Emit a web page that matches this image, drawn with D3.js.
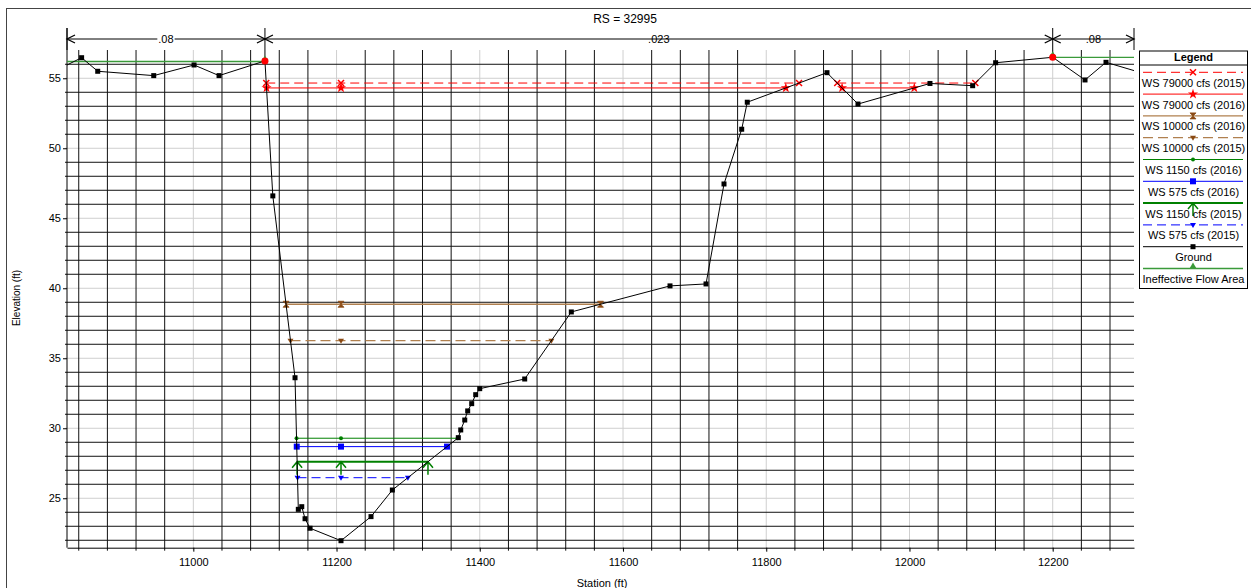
<!DOCTYPE html>
<html>
<head>
<meta charset="utf-8">
<script src="https://cdn.jsdelivr.net/npm/d3@7"></script>
<style>
  html, body { margin: 0; padding: 0; background: #fff; }
  svg { display: block; font-family: "Liberation Sans", Arial, sans-serif; }
</style>
</head>
<body>
<svg id="chart" width="1251" height="588"></svg>
<script>
// Cross section RS = 32995 : ground profile, water surfaces and reach roughness.

const title = "RS = 32995";

// Ground profile: station (ft), elevation (ft)
const groundStation = [10810, 10844, 10866.5, 10944.7, 11001, 11035.9, 11100, 11111, 11142, 11146.6,
  11151.4, 11156, 11163, 11206.2, 11248.1, 11277.9, 11370, 11373.4, 11379, 11383.1,
  11388.7, 11394.3, 11399.9, 11462.7, 11527.8, 11665.6, 11715.9, 11741, 11765.7, 11773.5,
  11884.8, 11928.1, 12028.6, 12088.2, 12120.3, 12200, 12245.1, 12274.4, 12330];
const groundElev = [55.6, 56.47, 55.5, 55.19, 55.95, 55.19, 56.24, 46.6, 33.61, 24.21,
  24.4, 23.54, 22.86, 21.97, 23.69, 25.59, 29.33, 29.88, 30.59, 31.24,
  31.76, 32.4, 32.83, 33.52, 38.31, 40.17, 40.31, 47.45, 51.36, 53.29,
  55.4, 53.16, 54.63, 54.47, 56.11, 56.5, 54.88, 56.14, 55.3];

// Water surface profiles
const wsNames = ["WS 79000 cfs (2015)", "WS 79000 cfs (2016)", "WS 10000 cfs (2016)", "WS 10000 cfs (2015)",
  "WS 1150 cfs (2016)", "WS 575 cfs (2016)", "WS 1150 cfs (2015)", "WS 575 cfs (2015)"];
const wsElev = [54.66, 54.31, 38.86, 36.26, 29.29, 28.69, 27.61, 26.47];

// Bank stations and Manning's n values between them
const bankStations = [11100, 12200];
const nValues = [".08", ".023", ".08"];

// Ineffective flow areas: start station, end station, elevation
const ineffStart = [10800, 12200];
const ineffEnd = [11100, 12340];
const ineffElev = [56.2, 56.5];

// Axis ticks
const stationTicks = [11000, 11200, 11400, 11600, 11800, 12000, 12200];
const elevTicks = [25, 30, 35, 40, 45, 50, 55];
const stationDomain = [10823.6, 12313.5];
const elevDomain = [21.47, 57.02];

// ---------------------------------------------------------------
const svg = d3.select("#chart");
const L = 67, R = 1134, T = 50, B = 547.7;
const x = d3.scaleLinear().domain(stationDomain).range([L, R]);
const y = d3.scaleLinear().domain(elevDomain).range([B, T]);
const ground = groundStation.map((s, i) => [s, groundElev[i]]);

// Styles for each water surface (drawn order matches legend)
const wsStyle = [
  { color: "#ff0000", dash: "9,5", width: 1, marker: "times" },
  { color: "#ff0000", dash: null, width: 1, marker: "star" },
  { color: "#b0804f", dash: null, width: 1.3, marker: "hourglass", mcolor: "#8a4a14" },
  { color: "#b0804f", dash: "10,5", width: 1.3, marker: "tridown", mcolor: "#8a4a14" },
  { color: "#008000", dash: null, width: 1, marker: "dot" },
  { color: "#0000ff", dash: null, width: 1, marker: "square" },
  { color: "#008000", dash: null, width: 2, marker: "arrow" },
  { color: "#0000ff", dash: "9,5", width: 1, marker: "tridown" }
];

// outer frame
svg.append("rect").attr("x", 6.5).attr("y", 8.5).attr("width", 1300).attr("height", 640)
  .attr("fill", "none").attr("stroke", "#444").attr("stroke-width", 1);

svg.append("text").attr("x", 625).attr("y", 23).attr("text-anchor", "middle")
  .attr("font-size", 12).text(title);

// grid: minor black lines, major gray lines
const grid = svg.append("g");
const minorStations = d3.range(10840, stationDomain[1], 40).filter(s => s % 200 !== 0);
const minorElevs = d3.range(22, 57, 1).filter(e => e % 5 !== 0);
grid.selectAll("line.gx").data(stationTicks).join("line")
  .attr("x1", d => x(d)).attr("x2", d => x(d)).attr("y1", T).attr("y2", B + 3)
  .attr("stroke", "#cfcfcf").attr("stroke-width", 1);
grid.selectAll("line.gy").data(elevTicks).join("line")
  .attr("x1", L - 2).attr("x2", R).attr("y1", d => y(d)).attr("y2", d => y(d))
  .attr("stroke", "#cfcfcf").attr("stroke-width", 1);
grid.selectAll("line.mx").data(minorStations).join("line")
  .attr("x1", d => x(d)).attr("x2", d => x(d)).attr("y1", T).attr("y2", B + 3)
  .attr("stroke", "#111").attr("stroke-width", 1);
grid.selectAll("line.my").data(minorElevs).join("line")
  .attr("x1", L - 2).attr("x2", R).attr("y1", d => y(d)).attr("y2", d => y(d))
  .attr("stroke", "#111").attr("stroke-width", 1);

// axes
const xAxis = d3.axisBottom(x).tickValues(stationTicks).tickSize(4).tickSizeOuter(0).tickFormat(d3.format("d"));
const gx = svg.append("g").attr("transform", `translate(0,${B})`).call(xAxis);
gx.select(".domain").attr("stroke", "#000");
gx.selectAll(".tick line").attr("stroke", "#000");
gx.selectAll("text").attr("font-size", 11).attr("fill", "#000").attr("dy", "1.05em")
  .attr("font-family", "'Liberation Sans', Arial, sans-serif");

const yAxis = d3.axisLeft(y).tickValues(elevTicks).tickSize(4).tickSizeOuter(0);
const gy = svg.append("g").attr("transform", `translate(${L},0)`).call(yAxis);
gy.select(".domain").remove();
gy.selectAll(".tick line").attr("stroke", "#000");
gy.selectAll("text").attr("font-size", 11).attr("fill", "#000").attr("x", -6)
  .attr("font-family", "'Liberation Sans', Arial, sans-serif");
svg.append("line").attr("x1", L).attr("x2", L).attr("y1", 28).attr("y2", B)
  .attr("stroke", "#000");

svg.append("text").attr("transform", "translate(20,298) rotate(-90)")
  .attr("text-anchor", "middle").attr("font-size", 10).text("Elevation (ft)");
svg.append("text").attr("x", 602).attr("y", 587).attr("text-anchor", "middle")
  .attr("font-size", 11).text("Station (ft)");

// roughness brackets
const nb = svg.append("g");
const bracketStops = [stationDomain[0], ...bankStations, stationDomain[1]];
const bracketY = 39;
bracketStops.forEach((s, i) => {
  const bottom = (i === 0 || i === bracketStops.length - 1) ? T
    : y(groundElev[groundStation.indexOf(s)]);
  nb.append("line").attr("x1", x(s)).attr("x2", x(s)).attr("y1", 28).attr("y2", bottom)
    .attr("stroke", "#000");
});
nValues.forEach((n, i) => {
  const x0 = x(bracketStops[i]), x1 = x(bracketStops[i + 1]);
  nb.append("line").attr("x1", x0).attr("x2", x1).attr("y1", bracketY).attr("y2", bracketY)
    .attr("stroke", "#000");
  nb.append("path").attr("d", `M${x0 + 8},${bracketY - 4}L${x0},${bracketY}L${x0 + 8},${bracketY + 4}`)
    .attr("fill", "none").attr("stroke", "#000").attr("stroke-width", 1.3);
  nb.append("path").attr("d", `M${x1 - 8},${bracketY - 4}L${x1},${bracketY}L${x1 - 8},${bracketY + 4}`)
    .attr("fill", "none").attr("stroke", "#000").attr("stroke-width", 1.3);
  const t = nb.append("text").attr("x", (x0 + x1) / 2).attr("y", bracketY + 4)
    .attr("text-anchor", "middle").attr("font-size", 11).text(n);
  const bb = t.node().getBBox();
  nb.insert("rect", "text").attr("x", bb.x - 1).attr("y", bb.y).attr("width", bb.width + 2)
    .attr("height", bb.height).attr("fill", "#fff");
});

// clip region for data marks
svg.append("clipPath").attr("id", "plotclip").append("rect")
  .attr("x", L).attr("y", 20).attr("width", R - L).attr("height", B - 20);
const plot = svg.append("g").attr("clip-path", "url(#plotclip)");

// marker drawing
function marker(g, type, cx, cy, color) {
  const m = g.append("g").attr("transform", `translate(${cx},${cy})`);
  switch (type) {
    case "times":
      m.append("path").attr("d", "M-3,-3L3,3M-3,3L3,-3").attr("stroke", color).attr("stroke-width", 1.5); break;
    case "star":
      m.append("path").attr("d", d3.symbol(d3.symbolStar, 32)()).attr("fill", color); break;
    case "hourglass":
      m.append("path").attr("d", "M-3,-3L3,-3L-3,3L3,3Z").attr("fill", color).attr("stroke", color).attr("stroke-width", 0.8); break;
    case "tridown":
      m.append("path").attr("d", "M-3,-2L3,-2L0,3Z").attr("fill", color); break;
    case "dot":
      m.append("circle").attr("r", 2).attr("fill", color); break;
    case "square":
      m.append("rect").attr("x", -3).attr("y", -3).attr("width", 6).attr("height", 6).attr("fill", color); break;
    case "arrow":
      m.append("path").attr("d", "M-5,6L0,0L5,6M0,0L0,13").attr("fill", "none").attr("stroke", color).attr("stroke-width", 1.5); break;
    case "ground":
      m.append("rect").attr("x", -2.5).attr("y", -2.5).attr("width", 5).attr("height", 5).attr("fill", color); break;
    case "triup":
      m.append("path").attr("d", "M-3.5,0L3.5,0L0,-6Z").attr("fill", color); break;
  }
}

// wet portions of a water surface across the ground profile
function wetSegments(ws) {
  const segs = [];
  let cur = ground[0][1] < ws ? [ground[0][0]] : null;
  for (let i = 0; i < ground.length - 1; i++) {
    const [s0, e0] = ground[i], [s1, e1] = ground[i + 1];
    const b0 = e0 < ws, b1 = e1 < ws;
    if (b0 !== b1) {
      const sc = s0 + (ws - e0) / (e1 - e0) * (s1 - s0);
      if (!b0) cur = [sc]; else { cur.push(sc); segs.push(cur); cur = null; }
    }
  }
  if (cur) { cur.push(ground[ground.length - 1][0]); segs.push(cur); }
  return segs;
}
const thalweg = ground.reduce((a, b) => (b[1] < a[1] ? b : a))[0];

// ineffective flow areas
ineffStart.forEach((s, i) => {
  plot.append("line").attr("x1", x(s)).attr("x2", x(ineffEnd[i]))
    .attr("y1", y(ineffElev[i])).attr("y2", y(ineffElev[i]))
    .attr("stroke", "#3a9a3a").attr("stroke-width", 1.3);
  const mx = i === 0 ? ineffEnd[i] : s;
  marker(plot, "triup", x(mx), y(ineffElev[i]), "#3a9a3a");
});

// water surfaces
wsElev.forEach((ws, i) => {
  const st = wsStyle[i];
  const segs = wetSegments(ws);
  segs.forEach(([a, b]) => {
    plot.append("line").attr("x1", x(a)).attr("x2", x(b)).attr("y1", y(ws)).attr("y2", y(ws))
      .attr("stroke", st.color).attr("stroke-width", st.width)
      .attr("stroke-dasharray", st.dash);
  });
  const pts = [];
  segs.forEach(([a, b]) => { pts.push(a, b); if (thalweg > a && thalweg < b) pts.push(thalweg); });
  pts.forEach(p => marker(plot, st.marker, x(p), y(ws), st.mcolor || st.color));
});

// ground line
plot.append("path").datum(ground)
  .attr("d", d3.line().x(d => x(d[0])).y(d => y(d[1])))
  .attr("fill", "none").attr("stroke", "#000").attr("stroke-width", 1);
ground.forEach(d => marker(plot, "ground", x(d[0]), y(d[1]), "#000"));

// bank stations
bankStations.forEach(s => {
  plot.append("circle").attr("cx", x(s)).attr("cy", y(groundElev[groundStation.indexOf(s)]))
    .attr("r", 3.5).attr("fill", "#ff0000");
});

// legend
const lg = svg.append("g");
const lgX0 = 1139.5, lgX1 = 1247.5, lgY0 = 51, lgY1 = 288.5;
lg.append("rect").attr("x", lgX0).attr("y", lgY0).attr("width", lgX1 - lgX0).attr("height", lgY1 - lgY0)
  .attr("fill", "#fff").attr("stroke", "#000");
lg.append("text").attr("x", (lgX0 + lgX1) / 2).attr("y", 61).attr("text-anchor", "middle")
  .attr("font-size", 11).attr("font-weight", "bold").text("Legend");
lg.append("line").attr("x1", lgX0).attr("x2", lgX1).attr("y1", 65).attr("y2", 65).attr("stroke", "#000");

const legendItems = wsNames.map((n, i) => ({ name: n, ...wsStyle[i] }))
  .concat([{ name: "Ground", color: "#000", dash: null, width: 1, marker: "ground" },
           { name: "Ineffective Flow Area", color: "#3a9a3a", dash: null, width: 1.3, marker: "triup" }]);
legendItems.forEach((it, i) => {
  const ly = 72.3 + i * 21.8;
  lg.append("line").attr("x1", 1143).attr("x2", 1243).attr("y1", ly).attr("y2", ly)
    .attr("stroke", it.color).attr("stroke-width", it.width).attr("stroke-dasharray", it.dash);
  marker(lg, it.marker, 1193, ly, it.mcolor || it.color);
  lg.append("text").attr("x", (lgX0 + lgX1) / 2).attr("y", ly + 14.5).attr("text-anchor", "middle")
    .attr("font-size", 11).text(it.name);
});
</script>
</body>
</html>
